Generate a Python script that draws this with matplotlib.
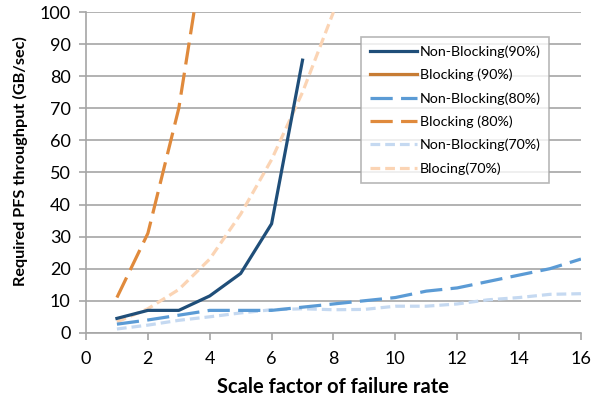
import matplotlib
matplotlib.use("Agg")
import matplotlib.pyplot as plt

plt.rcParams['font.family'] = ['Lato', 'DejaVu Sans']
plt.rcParams['lines.scale_dashes'] = False

# values
x_nb90 = [1, 2, 3, 4, 5, 6, 7]
nb90 = [4.5, 7, 7, 11.5, 18.5, 34, 85]

x_b90 = []
b90 = []

x_nb80 = [1, 2, 3, 4, 5, 6, 7, 8, 9, 10, 11, 12, 13, 14, 15, 16]
nb80 = [2.7, 4, 5.5, 7, 7, 7, 8, 9, 10, 11, 13, 14, 16, 18, 20, 23]

x_b80 = [1, 2, 3, 4]
b80 = [11, 31, 70, 131]

x_nb70 = [1, 2, 3, 4, 5, 6, 7, 8, 9, 10, 11, 12, 13, 14, 15, 16]
nb70 = [1.2, 2.4, 3.9, 5, 6.2, 7.2, 7.5, 7.2, 7.3, 8.3, 8.3, 9, 10.3, 11, 12, 12.2]

x_b70 = [1, 2, 3, 4, 5, 6, 7, 8]
b70 = [3.4, 7.5, 13.5, 23, 37, 54, 75, 100]

labels = ['Non-Blocking(90%)', 'Blocking (90%)', 'Non-Blocking(80%)',
          'Blocking (80%)', 'Non-Blocking(70%)', 'Blocing(70%)']

fig = plt.figure(figsize=(5.91, 4.01), dpi=100)
ax = fig.add_axes([0.1455, 0.170, 0.8375, 0.800])

lw = 2.3
ax.plot(x_nb90, nb90, color='#1F4E79', lw=lw, label=labels[0], zorder=5)
ax.plot(x_b90, b90, color='#C77C34', lw=lw, label=labels[1])
ax.plot(x_nb80, nb80, color='#5B9BD5', lw=lw, dashes=(16, 6), label=labels[2], zorder=4)
ax.plot(x_b80, b80, color='#E08A3C', lw=lw, dashes=(16, 6), label=labels[3], zorder=4)
ax.plot(x_nb70, nb70, color='#C5D9F1', lw=lw, dashes=(7, 3.6), label=labels[4], zorder=3)
ax.plot(x_b70, b70, color='#FBD4B4', lw=lw, dashes=(7, 3.6), label=labels[5], zorder=3)

ax.set_xlim(0, 16)
ax.set_ylim(0, 100)
ax.set_xticks(range(0, 17, 2))
ax.set_yticks(range(0, 101, 10))
ax.yaxis.grid(True, color='#A6A6A6', lw=1.2)
ax.set_axisbelow(True)

for s in ['top', 'right']:
    ax.spines[s].set_visible(False)
for s in ['left', 'bottom']:
    ax.spines[s].set_color('#A6A6A6')
    ax.spines[s].set_linewidth(1.2)
ax.tick_params(axis='both', colors='#A6A6A6', labelcolor='black',
               labelsize=13, length=5, width=1.2, direction='out')
ax.tick_params(axis='x', pad=8)
ax.tick_params(axis='y', pad=6)

ax.set_xlabel('Scale factor of failure rate', fontsize=14.5, fontweight='bold', labelpad=7)
ax.set_ylabel('Required PFS throughput (GB/sec)', fontsize=11.7, fontweight='bold')
ax.yaxis.set_label_coords(-0.118, 0.535)

leg = ax.legend(loc='upper left', bbox_to_anchor=(0.556, 0.922), fontsize=10.3,
                frameon=True, fancybox=False, handlelength=3.3, handletextpad=0.2,
                borderpad=0.6, labelspacing=0.75, borderaxespad=0)
leg.get_frame().set_edgecolor('#A6A6A6')
leg.get_frame().set_linewidth(1.2)

fig.savefig('out.png', dpi=100)
